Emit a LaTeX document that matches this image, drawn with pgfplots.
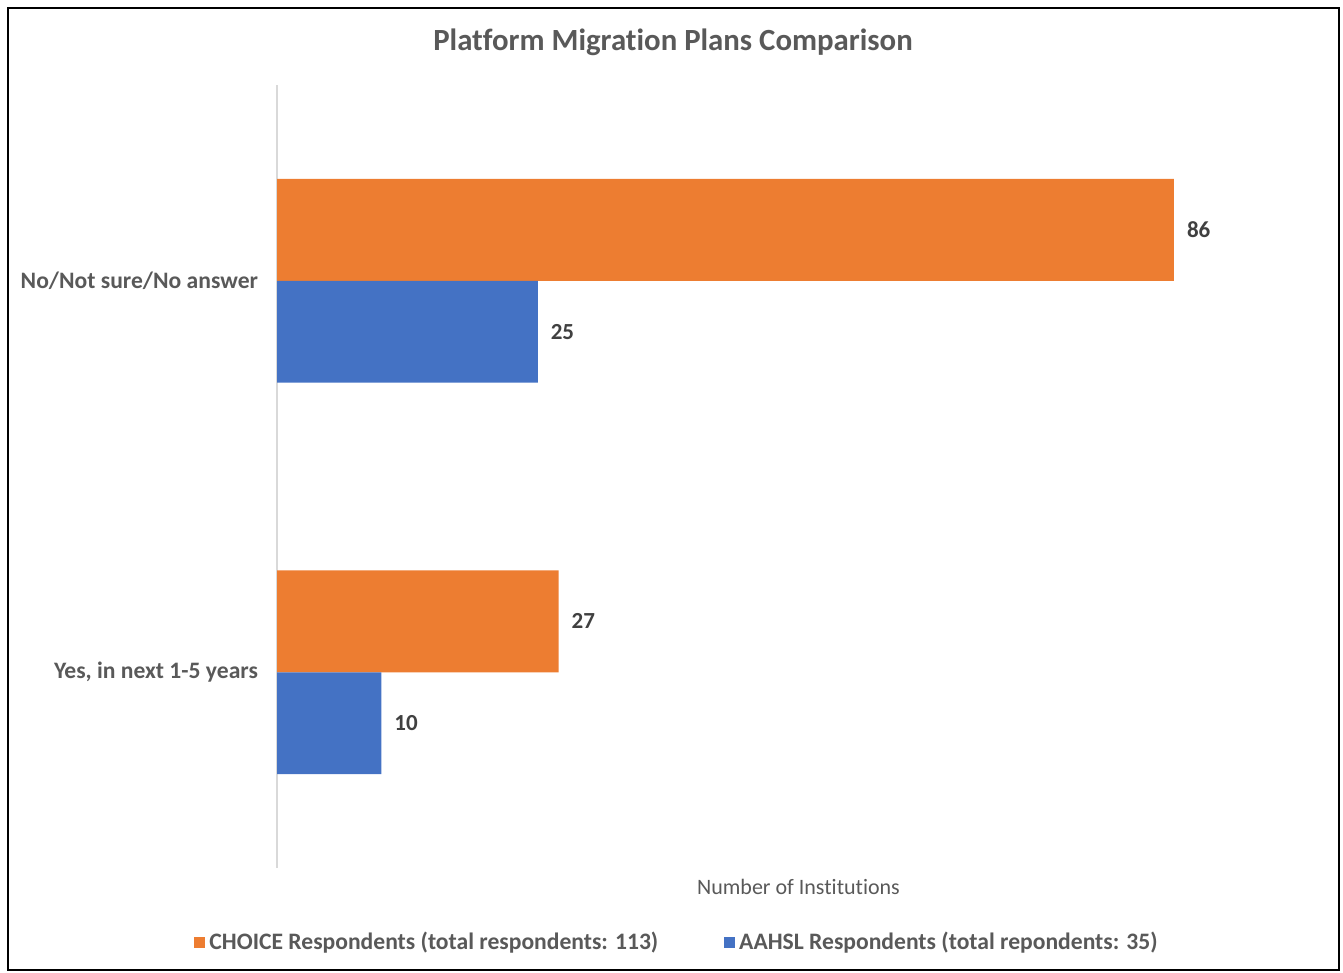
\documentclass[border=0pt]{standalone}
\usepackage{pgfplots}
\pgfplotsset{compat=1.18}
\usepackage{fontspec}
\setmainfont{Carlito}[Ligatures=NoCommon]
\definecolor{corange}{HTML}{ED7D31}
\definecolor{cblue}{HTML}{4472C4}
\definecolor{tgray}{HTML}{595959}
\definecolor{lgray}{HTML}{404040}
\definecolor{axgray}{HTML}{D9D9D9}
\begin{document}
\begin{tikzpicture}
\path[use as bounding box] (0pt,0pt) rectangle (671.5pt,-486.5pt);
\draw[line width=1.1pt] (4pt,-4pt) rectangle (669.5pt,-485pt);
\node[font=\fontsize{15.4}{18}\selectfont\bfseries, text=tgray] at (336.5pt,-21pt) {Platform Migration Plans Comparison};
\begin{axis}[
  at={(138.5pt,-42.5pt)}, anchor=north west,
  scale only axis, width=521.5pt, height=391.5pt,
  xmin=0, xmax=100, ymin=-0.5, ymax=1.5, y dir=reverse,
  enlargelimits=false, clip=false,
  /pgf/number format/assume math mode=true,
  axis x line=none, axis y line=left,
  y axis line style={draw=axgray, line width=0.75pt, -},
  ytick={0,1},
  yticklabels={No/Not sure/No answer, {Yes, in next 1-5 years}},
  major tick length=0pt,
  yticklabel style={font=\fontsize{11.8}{14}\selectfont\bfseries, text=tgray, xshift=-6pt},
  xbar, bar width=0.26,
  nodes near coords,
  nodes near coords style={font=\fontsize{11.5}{14}\selectfont\bfseries, text=lgray, anchor=west, xshift=3pt},
  legend style={at={(axis description cs:0.3845,-0.0945)}, anchor=center, draw=none, legend columns=2,
    font=\fontsize{11.8}{14}\selectfont\bfseries, text=tgray,
    /tikz/every even column/.append style={column sep=31pt}},
  legend image code/.code={\fill[#1] (0pt,-2.75pt) rectangle (5.5pt,2.75pt);},
]
\addplot[xbar, bar shift=-0.13, fill=corange, draw=none] coordinates {(86,0) (27,1)};
\addlegendentry{CHOICE Respondents (total respondents: 113)}
\addplot[xbar, bar shift=0.13, fill=cblue, draw=none] coordinates {(25,0) (10,1)};
\addlegendentry{AAHSL Respondents (total repondents: 35)}
\node[font=\fontsize{11}{13}\selectfont, text=tgray] at (axis description cs:0.5,-0.0243) {Number of Institutions};
\end{axis}
\end{tikzpicture}
\end{document}
